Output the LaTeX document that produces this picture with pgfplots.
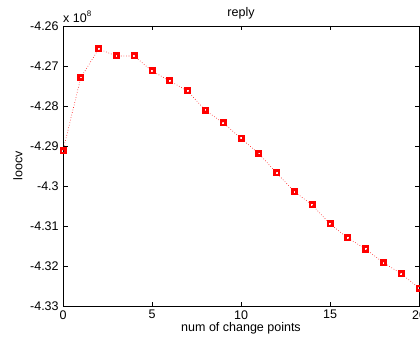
\documentclass[border=0pt]{standalone}
\usepackage{pgfplots}
\pgfplotsset{compat=1.18}
\usepackage{fontspec}
\setmainfont{Liberation Sans}
\begin{document}
\fontsize{12.5}{14}\selectfont
\begin{tikzpicture}[x=1pt,y=1pt]
\path[use as bounding box] (0,0) rectangle (420,340);
\begin{axis}[
  at={(63pt,34pt)}, anchor=south west,
  scale only axis, width=356pt, height=280pt,
  xmin=0, xmax=20, ymin=-4.33, ymax=-4.26,
  xtick={0,5,10,15,20},
  ytick={-4.33,-4.32,-4.31,-4.3,-4.29,-4.28,-4.27,-4.26},
  /pgf/number format/assume math mode=true,
  yticklabel style={/pgf/number format/fixed,/pgf/number format/precision=2, font=\fontsize{12.5}{14}\selectfont},
  xticklabel style={font=\fontsize{12.5}{14}\selectfont},
  tick align=inside, major tick length=4.5pt,
  axis line style={line width=0.8pt},
  tick style={line width=0.6pt, black},
  title={reply}, title style={font=\fontsize{12.5}{14}\selectfont, yshift=-3pt},
  xlabel={num of change points}, xlabel style={font=\fontsize{12.5}{14}\selectfont, yshift=5pt},
  ylabel={loocv}, ylabel style={font=\fontsize{12.5}{14}\selectfont, yshift=-1pt},
  clip=false,
]
\addplot[red, dotted, line width=0.6pt, mark=square, mark size=2.2pt,
  mark options={solid, line width=2.6pt, red}]
coordinates {
(0,-4.29118) (1,-4.2729) (2,-4.26575) (3,-4.2675) (4,-4.2675)
(5,-4.27125) (6,-4.27375) (7,-4.27625) (8,-4.2811) (9,-4.2842)
(10,-4.2881) (11,-4.2919) (12,-4.29675) (13,-4.30142) (14,-4.30475)
(15,-4.3095) (16,-4.313) (17,-4.31575) (18,-4.31917) (19,-4.32192)
(20,-4.3255)
};
\node[anchor=south west, inner sep=0pt, font=\fontsize{12.5}{14}\selectfont] at (rel axis cs:0,1) [yshift=3pt] {x 10\raisebox{0.9ex}{\fontsize{8}{9}\selectfont 8}};
\end{axis}
\end{tikzpicture}
\end{document}
